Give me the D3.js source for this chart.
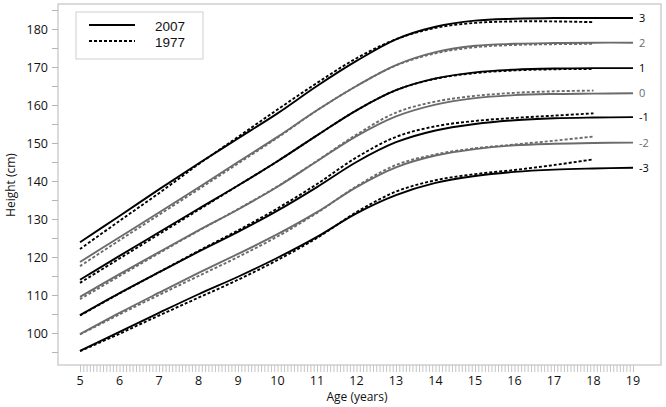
<!DOCTYPE html>
<html>
<head>
<meta charset="utf-8">
<script src="https://cdn.jsdelivr.net/npm/d3@7"></script>
<style>
  body { margin: 0; background: #fff; }
  svg { font-family: "Open Sans", "Noto Sans", sans-serif; }
</style>
</head>
<body>
<svg id="chart"></svg>
<script>
((() => {

  // ages for each reference
  const ages2007 = [5, 6, 7, 8, 9, 10, 11, 12, 13, 14, 15, 16, 17, 18, 19];
  const ages1977 = [5, 6, 7, 8, 9, 10, 11, 12, 13, 14, 15, 16, 17, 18];

  // SD lines, top to bottom
  const sdLabels = ["3", "2", "1", "0", "-1", "-2", "-3"];

  const heights2007 = [
    [123.9, 130.8, 137.8, 144.6, 151.2, 157.8, 165.0, 171.6, 177.3, 180.6, 182.2, 182.7, 182.9, 182.9, 182.9],
    [118.7, 125.2, 131.7, 138.3, 145.0, 151.6, 158.6, 165.0, 170.5, 173.9, 175.6, 176.1, 176.3, 176.4, 176.4],
    [114.0, 120.3, 126.5, 132.7, 138.8, 145.2, 152.0, 158.6, 163.9, 167.0, 168.6, 169.3, 169.6, 169.7, 169.7],
    [109.5, 115.5, 121.3, 127.0, 132.5, 138.5, 145.2, 151.8, 157.0, 160.1, 161.8, 162.6, 162.9, 163.0, 163.1],
    [104.7, 110.5, 116.0, 121.4, 126.6, 132.2, 138.4, 145.0, 150.2, 153.3, 155.0, 156.0, 156.5, 156.7, 156.8],
    [99.7, 105.3, 110.6, 115.8, 120.8, 126.0, 131.8, 138.4, 143.6, 146.7, 148.4, 149.4, 149.8, 150.0, 150.1],
    [95.3, 100.3, 105.3, 110.2, 114.8, 119.8, 125.3, 131.5, 136.3, 139.5, 141.3, 142.4, 143.0, 143.3, 143.5]
  ];

  const heights1977 = [
    [122.1, 129.5, 136.8, 144.4, 151.6, 158.8, 165.8, 172.3, 177.3, 180.3, 181.6, 182.0, 182.0, 181.8],
    [117.6, 124.4, 131.1, 137.8, 144.6, 151.4, 158.6, 165.0, 170.4, 173.6, 175.2, 175.8, 176.0, 176.1],
    [113.2, 119.6, 126.0, 132.4, 138.8, 145.2, 152.0, 158.6, 163.9, 166.9, 168.4, 169.1, 169.4, 169.5],
    [108.9, 115.0, 121.0, 126.9, 132.6, 138.6, 145.3, 152.2, 158.0, 160.9, 162.4, 163.2, 163.6, 163.8],
    [104.6, 110.4, 116.0, 121.6, 127.0, 132.8, 139.2, 146.2, 151.6, 154.4, 155.8, 156.6, 157.2, 157.8],
    [99.6, 104.9, 110.0, 115.0, 120.0, 125.4, 131.6, 138.6, 144.2, 147.0, 148.6, 149.6, 150.6, 151.7],
    [95.2, 99.8, 104.6, 109.3, 114.0, 119.2, 125.0, 131.8, 137.2, 140.2, 141.8, 142.9, 144.2, 145.7]
  ];

  const xTicks = d3.range(5, 20);
  const yTicks = [100, 110, 120, 130, 140, 150, 160, 170, 180];
  const legendYears = ["2007", "1977"];

  var width = 666;
  var height = 407;

  var svg = d3.select("#chart")
    .attr("width", width)
    .attr("height", height);

  // frame of the plot area
  var frame = { left: 58, top: 4, right: 661, bottom: 365 };

  var x = d3.scaleLinear().domain([5, 19]).range([80, 633]);
  var y = d3.scaleLinear().domain([100, 180]).range([333, 29]);

  // colours alternate black / gray from the top line
  var colour = i => (i % 2 === 0 ? "#000" : "#6b6b6b");

  svg.append("rect")
    .attr("x", frame.left)
    .attr("y", frame.top)
    .attr("width", frame.right - frame.left)
    .attr("height", frame.bottom - frame.top)
    .attr("fill", "none")
    .attr("stroke", "#cfcfcf")
    .attr("stroke-width", 1.5);

  // x axis: monthly minor ticks, year labels
  var xAxis = d3.axisBottom(x)
    .tickValues(d3.range(5 * 12, 19 * 12 + 1).map(m => m / 12))
    .tickSize(7)
    .tickFormat("");

  var gx = svg.append("g")
    .attr("transform", "translate(0," + frame.bottom + ")")
    .call(xAxis);
  gx.select(".domain").remove();
  gx.selectAll(".tick line").attr("stroke", "#c4c4c4");

  svg.append("g")
    .selectAll("text")
    .data(xTicks)
    .enter()
    .append("text")
    .attr("x", d => x(d))
    .attr("y", 385)
    .attr("text-anchor", "middle")
    .attr("font-size", 12.5)
    .attr("fill", "#111")
    .text(d => d);

  svg.append("text")
    .attr("x", 357)
    .attr("y", 401)
    .attr("text-anchor", "middle")
    .attr("font-size", 12)
    .attr("fill", "#111")
    .text("Age (years)");

  // y axis: ticks every 5 cm, labels every 10
  var yAxis = d3.axisLeft(y)
    .tickValues(d3.range(95, 186, 5))
    .tickSize(6)
    .tickFormat(d => (yTicks.includes(d) ? d : ""));

  var gy = svg.append("g")
    .attr("transform", "translate(" + frame.left + ",0)")
    .call(yAxis);
  gy.select(".domain").remove();
  gy.selectAll(".tick line").attr("stroke", "#b5b5b5");
  gy.selectAll(".tick text")
    .attr("x", -10)
    .attr("font-size", 12.5)
    .attr("fill", "#111")
    .attr("font-family", "'Open Sans', 'Noto Sans', sans-serif");

  svg.append("text")
    .attr("transform", "translate(15,185) rotate(-90)")
    .attr("text-anchor", "middle")
    .attr("font-size", 12)
    .attr("fill", "#111")
    .text("Height (cm)");

  var line = d3.line()
    .x(d => x(d[0]))
    .y(d => y(d[1]))
    .curve(d3.curveCatmullRom.alpha(0.5));

  var plot = svg.append("g");

  // 1977 dotted lines
  plot.selectAll(".ref1977")
    .data(heights1977)
    .enter()
    .append("path")
    .attr("class", "ref1977")
    .attr("d", vals => line(vals.map((v, j) => [ages1977[j], v])))
    .attr("fill", "none")
    .attr("stroke", (d, i) => colour(i))
    .attr("stroke-width", 1.9)
    .attr("stroke-dasharray", "3,2");

  // 2007 solid lines
  plot.selectAll(".ref2007")
    .data(heights2007)
    .enter()
    .append("path")
    .attr("class", "ref2007")
    .attr("d", vals => line(vals.map((v, j) => [ages2007[j], v])))
    .attr("fill", "none")
    .attr("stroke", (d, i) => colour(i))
    .attr("stroke-width", 1.9);

  // SD labels at the right end
  plot.selectAll(".sdlab")
    .data(heights2007)
    .enter()
    .append("text")
    .attr("class", "sdlab")
    .attr("x", x(19) + 6)
    .attr("y", vals => y(vals[vals.length - 1]) + 4)
    .attr("font-size", 11)
    .attr("fill", (d, i) => colour(i))
    .text((d, i) => sdLabels[i]);

  // legend
  var legend = svg.append("g");
  legend.append("rect")
    .attr("x", 76)
    .attr("y", 12)
    .attr("width", 127)
    .attr("height", 47)
    .attr("fill", "#fff")
    .attr("stroke", "#cfcfcf")
    .attr("stroke-width", 1);

  legendYears.forEach((yr, i) => {
    legend.append("line")
      .attr("x1", 89)
      .attr("x2", 135)
      .attr("y1", 25 + i * 16)
      .attr("y2", 25 + i * 16)
      .attr("stroke", "#000")
      .attr("stroke-width", 2)
      .attr("stroke-dasharray", i === 0 ? null : "3,2");
    legend.append("text")
      .attr("x", 155)
      .attr("y", 31 + i * 16)
      .attr("font-family", "'Liberation Sans', Arial, sans-serif")
      .attr("font-size", 13.5)
      .attr("fill", "#111")
      .text(yr);
  });

})());
</script>
</body>
</html>
